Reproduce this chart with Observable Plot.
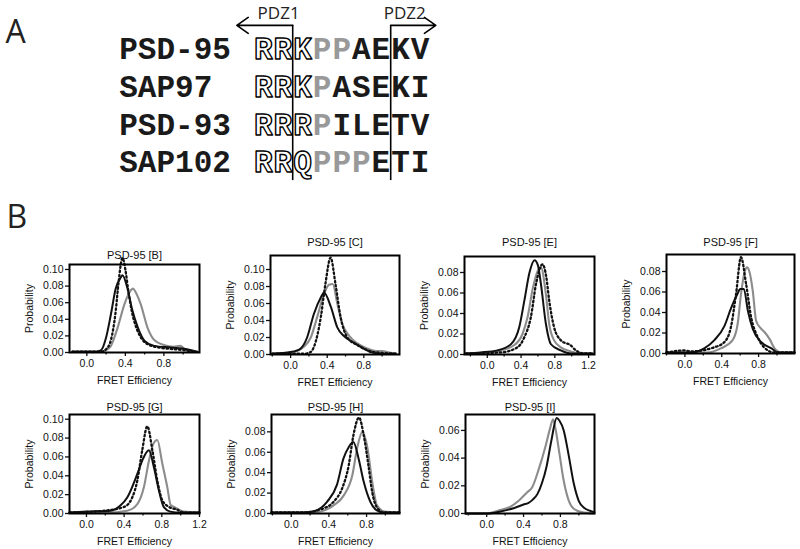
<!DOCTYPE html>
<html><head><meta charset="utf-8">
<script src="https://cdn.jsdelivr.net/npm/d3@7"></script>
<script src="https://cdn.jsdelivr.net/npm/@observablehq/plot@0.6"></script>
<style>
body{margin:0;background:#fff;}
#root{position:relative;width:800px;height:549px;overflow:hidden;background:#fff;}
#root svg{position:absolute;overflow:visible;background:transparent;}
</style></head><body><div id="root"></div>
<script>
// ---------- Part A data ----------
const proteins = ["PSD-95", "SAP97", "PSD-93", "SAP102"];
const sequences = ["RRKPPAEKV", "RRKPASEKI", "RRRPILETV", "RRQPPPETI"];
// o = outlined, g = grey, b = black bold
const residueStyle = ["oooggbbbb", "ooogbbbbb", "ooogbbbbb", "ooogggbbb"];
const domainLabels = ["PDZ1", "PDZ2"];
const domainBoundary = [2, 7];
const panelLetters = ["A", "B"];

// ---------- Part B data: [FRET efficiency, probability] ----------
const B_gray = [[-0.15,0.001],[0.15,0.001],[0.2,0.003],[0.25,0.008],[0.32,0.03],[0.39,0.058],[0.44,0.072],[0.48,0.077],[0.51,0.072],[0.56,0.058],[0.63,0.03],[0.7,0.015],[0.8,0.009],[0.9,0.007],[0.97,0.008],[1.02,0.004],[1.1,0.001]];
const B_black = [[-0.15,0.001],[0.1,0.001],[0.15,0.003],[0.2,0.018],[0.25,0.046],[0.3,0.077],[0.35,0.09],[0.37,0.093],[0.42,0.078],[0.47,0.052],[0.53,0.03],[0.6,0.014],[0.7,0.008],[0.87,0.006],[1.04,0.004],[1.15,0.001]];
const B_dot = [[-0.15,0.001],[0.15,0.001],[0.2,0.004],[0.25,0.015],[0.3,0.05],[0.33,0.085],[0.37,0.114],[0.4,0.1],[0.43,0.075],[0.47,0.048],[0.52,0.028],[0.58,0.015],[0.65,0.009],[0.75,0.006],[0.9,0.004],[1.0,0.003],[1.1,0.001]];

const C_gray = [[-0.2,0.001],[0,0.002],[0.07,0.004],[0.145,0.009],[0.22,0.02],[0.29,0.044],[0.36,0.07],[0.42,0.082],[0.46,0.083],[0.51,0.06],[0.565,0.036],[0.64,0.022],[0.73,0.013],[0.84,0.007],[0.93,0.004],[1.0,0.004],[1.09,0.002],[1.15,0.001]];
const C_black = [[-0.2,0.001],[0,0.003],[0.05,0.004],[0.11,0.007],[0.18,0.02],[0.255,0.048],[0.33,0.067],[0.365,0.073],[0.44,0.056],[0.51,0.032],[0.58,0.022],[0.69,0.014],[0.8,0.007],[0.87,0.003],[1.0,0.001],[1.15,0.001]];
const C_dot = [[-0.2,0.001],[0.15,0.001],[0.22,0.003],[0.255,0.009],[0.33,0.044],[0.38,0.083],[0.437,0.114],[0.49,0.083],[0.546,0.044],[0.62,0.02],[0.73,0.011],[0.84,0.005],[0.98,0.002],[1.15,0.001]];

const E_gray = [[-0.25,0.001],[0,0.002],[0.16,0.004],[0.317,0.009],[0.417,0.02],[0.476,0.036],[0.54,0.065],[0.6,0.082],[0.635,0.085],[0.694,0.059],[0.733,0.03],[0.79,0.014],[0.87,0.007],[0.99,0.003],[1.1,0.001],[1.25,0.001]];
const E_black = [[-0.25,0.001],[-0.08,0.002],[0.12,0.004],[0.28,0.01],[0.38,0.027],[0.44,0.053],[0.5,0.08],[0.56,0.092],[0.6,0.087],[0.635,0.069],[0.694,0.03],[0.754,0.01],[0.87,0.004],[1.0,0.001],[1.25,0.001]];
const E_dot = [[-0.25,0.001],[0.16,0.002],[0.357,0.007],[0.44,0.017],[0.515,0.036],[0.58,0.07],[0.655,0.088],[0.7,0.075],[0.733,0.053],[0.79,0.027],[0.87,0.014],[0.93,0.011],[0.97,0.01],[1.05,0.004],[1.15,0.001],[1.25,0.001]];

const F_gray = [[-0.2,0.001],[0.24,0.001],[0.39,0.005],[0.518,0.013],[0.573,0.029],[0.609,0.058],[0.65,0.08],[0.675,0.084],[0.7,0.08],[0.737,0.061],[0.773,0.032],[0.82,0.025],[0.864,0.021],[0.92,0.014],[0.974,0.005],[1.05,0.001],[1.19,0.001]];
const F_black = [[-0.2,0.001],[0.06,0.001],[0.21,0.005],[0.32,0.013],[0.43,0.027],[0.5,0.044],[0.57,0.058],[0.6,0.063],[0.64,0.063],[0.683,0.042],[0.737,0.024],[0.83,0.011],[0.94,0.005],[1.01,0.001],[1.19,0.001]];
const F_dot = [[-0.2,0.001],[0.0,0.003],[0.06,0.002],[0.317,0.006],[0.427,0.011],[0.5,0.026],[0.555,0.058],[0.609,0.094],[0.664,0.068],[0.72,0.035],[0.79,0.016],[0.86,0.006],[0.97,0.001],[1.19,0.001]];

const G_gray = [[-0.18,0.001],[0.2,0.001],[0.433,0.003],[0.54,0.01],[0.61,0.028],[0.663,0.056],[0.71,0.074],[0.752,0.078],[0.805,0.053],[0.858,0.028],[0.894,0.009],[0.93,0.007],[0.965,0.005],[1.03,0.002],[1.2,0.001]];
const G_black = [[-0.18,0.001],[0.01,0.002],[0.255,0.003],[0.36,0.0085],[0.433,0.017],[0.54,0.042],[0.6,0.058],[0.663,0.067],[0.716,0.049],[0.77,0.024],[0.82,0.007],[0.89,0.002],[1.0,0.001],[1.2,0.001]];
const G_dot = [[-0.18,0.001],[0.19,0.003],[0.4,0.007],[0.486,0.017],[0.54,0.035],[0.592,0.067],[0.646,0.0925],[0.7,0.067],[0.752,0.035],[0.805,0.014],[0.876,0.007],[0.965,0.004],[1.03,0.001],[1.2,0.001]];

const H_gray = [[-0.21,0.001],[0.2,0.001],[0.31,0.002],[0.45,0.008],[0.56,0.018],[0.65,0.038],[0.7,0.064],[0.755,0.08],[0.81,0.064],[0.86,0.031],[0.91,0.008],[0.99,0.002],[1.15,0.001]];
const H_black = [[-0.21,0.001],[0.1,0.001],[0.23,0.002],[0.38,0.0115],[0.485,0.028],[0.555,0.054],[0.61,0.065],[0.66,0.07],[0.715,0.054],[0.77,0.031],[0.84,0.0115],[0.91,0.003],[0.98,0.001],[1.15,0.001]];
const H_dot = [[-0.21,0.001],[0.13,0.001],[0.31,0.004],[0.45,0.0115],[0.54,0.0245],[0.61,0.047],[0.66,0.0765],[0.72,0.094],[0.77,0.0765],[0.82,0.047],[0.86,0.021],[0.91,0.006],[0.98,0.001],[1.15,0.001]];

const I_gray = [[-0.23,0],[0,0],[0.12,0.002],[0.26,0.005],[0.35,0.0094],[0.44,0.0154],[0.494,0.019],[0.565,0.032],[0.64,0.049],[0.69,0.062],[0.72,0.068],[0.75,0.06],[0.79,0.043],[0.835,0.024],[0.89,0.0094],[0.945,0.0034],[1.03,0.001],[1.17,0]];
const I_black = [[-0.23,0],[0,0],[0.15,0.0015],[0.3,0.004],[0.4,0.0065],[0.45,0.0075],[0.5,0.01],[0.55,0.014],[0.6,0.022],[0.65,0.034],[0.7,0.052],[0.76,0.069],[0.79,0.067],[0.836,0.06],[0.89,0.042],[0.944,0.022],[1.0,0.009],[1.06,0.004],[1.12,0.002],[1.17,0.001]];

const probTicks = [0, 0.02, 0.04, 0.06, 0.08, 0.10];
const fretTicks = [0, 0.4, 0.8, 1.2];
const fretMinorTicks = [-0.2, 0.2, 0.6, 1.0];

// ---------- layout (page pixels of each plot frame) ----------
const panels = [
  {title:"PSD-95 [B]", series:[["gray",B_gray],["black",B_black],["dot",B_dot]], L:69, R:199, T:264, Bot:352, titleY:251, xdom:[-0.18,1.17], ymax:0.106},
  {title:"PSD-95 [C]", series:[["gray",C_gray],["black",C_black],["dot",C_dot]], L:270, R:399, T:255, Bot:354, titleY:238, xdom:[-0.22,1.19], ymax:0.1165},
  {title:"PSD-95 [E]", series:[["gray",E_gray],["black",E_black],["dot",E_dot]], L:464, R:594, T:256, Bot:354, titleY:238, xdom:[-0.27,1.27], ymax:0.0956},
  {title:"PSD-95 [F]", series:[["gray",F_gray],["black",F_black],["dot",F_dot]], L:666, R:794, T:254, Bot:353, titleY:238, xdom:[-0.2,1.19], ymax:0.0966},
  {title:"PSD-95 [G]", series:[["gray",G_gray],["black",G_black],["dot",G_dot]], L:69, R:199, T:414, Bot:513, titleY:403, xdom:[-0.18,1.2], ymax:0.105},
  {title:"PSD-95 [H]", series:[["gray",H_gray],["black",H_black],["dot",H_dot]], L:271, R:399, T:414, Bot:513, titleY:403, xdom:[-0.21,1.15], ymax:0.097},
  {title:"PSD-95 [I]", series:[["gray",I_gray],["black",I_black]], L:465, R:594, T:414, Bot:513, titleY:403, xdom:[-0.23,1.17], ymax:0.0715}
];

const root = document.getElementById("root");
const sans = "Liberation Sans, Arial, Helvetica, sans-serif";
const mono = "Liberation Mono, Courier New, DejaVu Sans Mono, monospace";

// ---------- Part A ----------
const residues = [];
sequences.forEach((s, r) => [...s].forEach((ch, i) => residues.push({row: r, col: i + 0.5, ch, kind: residueStyle[r][i]})));
const nameCol = -6.85, arrowRow = -0.64, lineEndRow = 3.48, labelRow = -0.96;
const arrows = [{from: domainBoundary[0], to: -0.85}, {from: domainBoundary[1], to: 9.3}];
const letterFont = "Open Sans, Noto Sans, sans-serif";

const plotA = Plot.plot({
  width: 800, height: 240, margin: 0,
  x: {type: "linear", domain: [0, 9], range: [253, 429.4], axis: null},
  y: {type: "linear", domain: [0, 3], range: [49, 162], axis: null},
  style: {background: "transparent", overflow: "visible"},
  marks: [
    Plot.text(proteins, {x: () => nameCol, y: (d, i) => i, text: d => d, textAnchor: "start", lineAnchor: "middle", fontFamily: mono, fontWeight: "bold", fontSize: 31, fill: "#1a1a1a"}),
    Plot.text(residues.filter(d => d.kind === "o"), {x: "col", y: "row", text: "ch", lineAnchor: "middle", fontFamily: mono, fontWeight: "bold", fontSize: 31, fill: "white", stroke: "#000", strokeWidth: 1.4, paintOrder: "normal"}),
    Plot.text(residues.filter(d => d.kind === "g"), {x: "col", y: "row", text: "ch", lineAnchor: "middle", fontFamily: mono, fontWeight: "bold", fontSize: 31, fill: "#999"}),
    Plot.text(residues.filter(d => d.kind === "b"), {x: "col", y: "row", text: "ch", lineAnchor: "middle", fontFamily: mono, fontWeight: "bold", fontSize: 31, fill: "#1a1a1a"}),
    Plot.ruleX(domainBoundary, {y1: () => arrowRow, y2: () => lineEndRow, stroke: "#000", strokeWidth: 1.6}),
    Plot.arrow(arrows, {x1: "from", x2: "to", y1: () => arrowRow, y2: () => arrowRow, stroke: "#000", strokeWidth: 1.6, headLength: 13, headAngle: 70}),
    Plot.text(domainLabels, {x: (d, i) => domainBoundary[i] + (i ? 0.72 : -0.72), y: () => labelRow, text: d => d, lineAnchor: "middle", fontFamily: letterFont, fontSize: 17, fill: "#222"}),
    Plot.text([panelLetters[0]], {frameAnchor: "top-left", text: d => d, dx: 5, dy: 20, lineAnchor: "top", textAnchor: "start", fontFamily: letterFont, fontSize: 32, fill: "#222"}),
    Plot.text([panelLetters[1]], {frameAnchor: "top-left", text: d => d, dx: 6, dy: 205, lineAnchor: "top", textAnchor: "start", fontFamily: letterFont, fontSize: 32, fill: "#222"})
  ]
});
plotA.style.left = "0px"; plotA.style.top = "0px";
root.appendChild(plotA);

// ---------- Part B ----------
const styles = {
  gray: {stroke: "#8c8c8c", strokeWidth: 2.1},
  black: {stroke: "#111", strokeWidth: 2},
  dot: {stroke: "#111", strokeWidth: 2.3, strokeDasharray: "1.5,2.7"}
};
const mL = 48, mR = 4, mB = 42;
for (const p of panels) {
  const svgTop = p.titleY - 10;
  const mT = p.T - svgTop;
  const width = (p.R - p.L) + mL + mR;
  const height = (p.Bot - p.T) + mT + mB;
  const inX = t => t >= p.xdom[0] - 1e-9 && t <= p.xdom[1] + 1e-9;
  const lineMarks = p.series.map(([kind, data]) =>
    Plot.line(data, {x: d => d[0], y: d => d[1], curve: "monotone-x", ...styles[kind]}));
  const svg = Plot.plot({
    width, height, marginLeft: mL, marginRight: mR, marginTop: mT, marginBottom: mB,
    style: {fontFamily: sans, fontSize: "10.5px", background: "transparent", overflow: "visible", color: "#111"},
    x: {domain: p.xdom},
    y: {domain: [0, p.ymax]},
    marks: [
      Plot.axisY({ticks: probTicks.filter(t => t <= p.ymax + 1e-9), tickFormat: d3.format(".2f"), tickSize: 4, tickPadding: 2, strokeWidth: 1.3, label: "Probability", labelAnchor: "center", labelArrow: "none", labelOffset: 44}),
      Plot.axisX({ticks: fretTicks.filter(inX), tickFormat: d3.format(".1f"), tickSize: 4, tickPadding: 3, strokeWidth: 1.3, label: "FRET Efficiency", labelAnchor: "center", labelArrow: "none", labelOffset: 31}),
      Plot.axisX({ticks: fretMinorTicks.filter(inX), tickFormat: () => "", tickSize: 2.5, strokeWidth: 1.3, label: null}),
      ...lineMarks,
      Plot.frame({stroke: "#000", strokeWidth: 2}),
      Plot.text([p.title], {frameAnchor: "top", text: d => d, dy: -(p.T - p.titleY), fontSize: 11, fill: "#111"})
    ]
  });
  svg.style.left = (p.L - mL) + "px";
  svg.style.top = svgTop + "px";
  root.appendChild(svg);
}
</script></body></html>
